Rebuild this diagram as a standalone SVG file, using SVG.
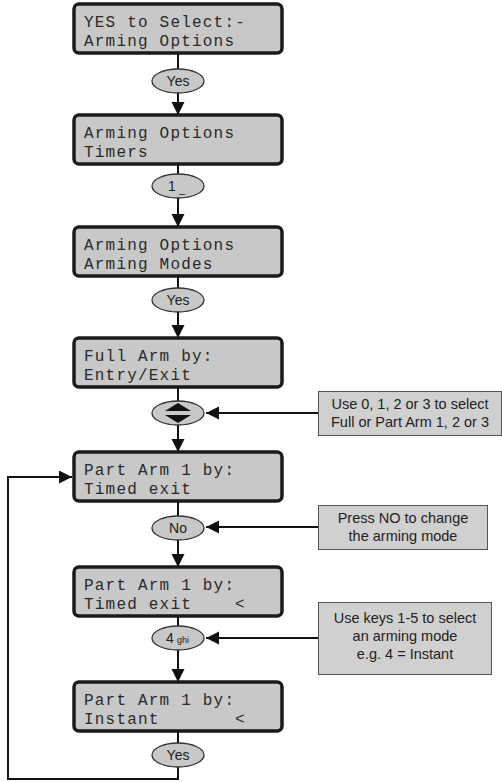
<svg xmlns="http://www.w3.org/2000/svg" width="502" height="782" viewBox="0 0 502 782">
<defs>
<style>
.lcd{fill:#c8c8c8;stroke:#1a1a1a;stroke-width:3.5}
.lt{font-family:"Liberation Mono","DejaVu Sans Mono",monospace;font-size:16px;letter-spacing:1.2px;fill:#2a2a2a}
.key{fill:#c8c8c8;stroke:#333;stroke-width:1.3}
.kt{font-family:"Liberation Sans",Arial,sans-serif;font-size:14px;fill:#222;text-anchor:middle}
.ks{font-family:"Liberation Sans",Arial,sans-serif;font-size:9px;fill:#222}
.note{fill:#d0d0d0;stroke:#555;stroke-width:1}
.nt{font-family:"Liberation Sans",Arial,sans-serif;font-size:14.5px;fill:#222;text-anchor:middle}
.c{fill:none;stroke:#111;stroke-width:2}
</style>
<marker id="ah" markerUnits="userSpaceOnUse" markerWidth="14" markerHeight="14" refX="13" refY="6.5" orient="auto">
<path d="M0,0 L13,6.5 L0,13 Z" fill="#111"/>
</marker>
</defs>

<g id="connectors">
<path class="c" d="M178,53 V69"/>
<path class="c" d="M178,93 V115" marker-end="url(#ah)"/>
<path class="c" d="M178,164 V174"/>
<path class="c" d="M178,198 V227" marker-end="url(#ah)"/>
<path class="c" d="M178,276 V288"/>
<path class="c" d="M178,312 V338" marker-end="url(#ah)"/>
<path class="c" d="M178,387 V401"/>
<path class="c" d="M178,425 V452" marker-end="url(#ah)"/>
<path class="c" d="M178,501 V516"/>
<path class="c" d="M178,540 V567" marker-end="url(#ah)"/>
<path class="c" d="M178,616 V626"/>
<path class="c" d="M178,650 V682" marker-end="url(#ah)"/>
<path class="c" d="M178,731 V743"/>
<path class="c" d="M178,767 V779 H8 V477 H72" marker-end="url(#ah)"/>
<path class="c" d="M318,413 H206" marker-end="url(#ah)"/>
<path class="c" d="M318,527 H206" marker-end="url(#ah)"/>
<path class="c" d="M318,638 H206" marker-end="url(#ah)"/>
</g>

<g id="lcd1">
<rect class="lcd" x="74" y="4" width="208" height="49" rx="5"/>
<text class="lt" x="84" y="27">YES to Select:-</text>
<text class="lt" x="84" y="46">Arming Options</text>
</g>
<g id="key1">
<ellipse class="key" cx="178" cy="81" rx="26" ry="12"/>
<text class="kt" x="178" y="86">Yes</text>
</g>

<g id="lcd2">
<rect class="lcd" x="74" y="115" width="208" height="49" rx="5"/>
<text class="lt" x="84" y="138">Arming Options</text>
<text class="lt" x="84" y="157">Timers</text>
</g>
<g id="key2">
<ellipse class="key" cx="178" cy="186" rx="26" ry="12"/>
<text class="kt" x="172" y="191">1</text>
<text class="ks" x="179" y="193" style="font-size:11px">_</text>
</g>

<g id="lcd3">
<rect class="lcd" x="74" y="227" width="208" height="49" rx="5"/>
<text class="lt" x="84" y="250">Arming Options</text>
<text class="lt" x="84" y="269">Arming Modes</text>
</g>
<g id="key3">
<ellipse class="key" cx="178" cy="300" rx="26" ry="12"/>
<text class="kt" x="178" y="305">Yes</text>
</g>

<g id="lcd4">
<rect class="lcd" x="74" y="338" width="208" height="49" rx="5"/>
<text class="lt" x="84" y="361">Full Arm by:</text>
<text class="lt" x="84" y="380">Entry/Exit</text>
</g>
<g id="key4">
<ellipse class="key" cx="178" cy="413" rx="26" ry="12"/>
<path d="M165,411 L191,411 L178,403 Z M165,415 L191,415 L178,423 Z" fill="#111"/>
</g>

<g id="lcd5">
<rect class="lcd" x="74" y="452" width="208" height="49" rx="5"/>
<text class="lt" x="84" y="475">Part Arm 1 by:</text>
<text class="lt" x="84" y="494">Timed exit</text>
</g>
<g id="key5">
<ellipse class="key" cx="178" cy="528" rx="26" ry="12"/>
<text class="kt" x="178" y="533">No</text>
</g>

<g id="lcd6">
<rect class="lcd" x="74" y="567" width="208" height="49" rx="5"/>
<text class="lt" x="84" y="590">Part Arm 1 by:</text>
<text class="lt" x="84" y="609">Timed exit</text>
<text class="lt" x="235" y="609">&lt;</text>
</g>
<g id="key6">
<ellipse class="key" cx="178" cy="638" rx="26" ry="12"/>
<text class="kt" x="170" y="643">4</text>
<text class="ks" x="177" y="643">ghi</text>
</g>

<g id="lcd7">
<rect class="lcd" x="74" y="682" width="208" height="49" rx="5"/>
<text class="lt" x="84" y="705">Part Arm 1 by:</text>
<text class="lt" x="84" y="724">Instant</text>
<text class="lt" x="235" y="724">&lt;</text>
</g>
<g id="key7">
<ellipse class="key" cx="178" cy="755" rx="26" ry="12"/>
<text class="kt" x="178" y="760">Yes</text>
</g>

<g id="note1">
<rect class="note" x="318.5" y="391.5" width="183" height="44"/>
<text class="nt" x="410" y="409">Use 0, 1, 2 or 3 to select</text>
<text class="nt" x="410" y="427">Full or Part Arm 1, 2 or 3</text>
</g>
<g id="note2">
<rect class="note" x="318.5" y="505.5" width="169" height="44"/>
<text class="nt" x="403" y="523">Press NO to change</text>
<text class="nt" x="403" y="541">the arming mode</text>
</g>
<g id="note3">
<rect class="note" x="318.5" y="602.5" width="173" height="72"/>
<text class="nt" x="405" y="623">Use keys 1-5 to select</text>
<text class="nt" x="405" y="641">an arming mode</text>
<text class="nt" x="405" y="659">e.g. 4 = Instant</text>
</g>
</svg>
